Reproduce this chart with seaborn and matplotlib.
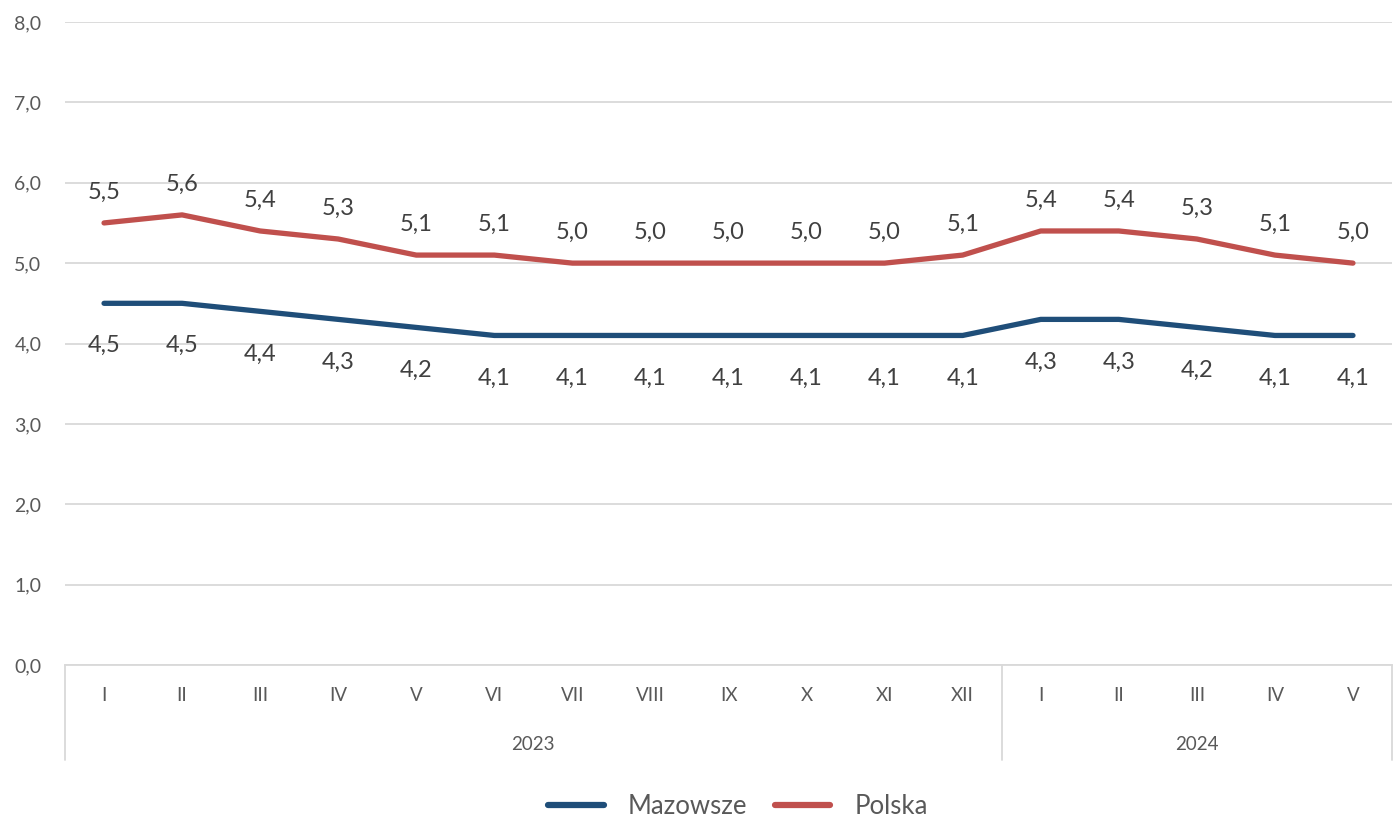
import matplotlib
matplotlib.use("Agg")
import matplotlib.pyplot as plt
import matplotlib.transforms as mtransforms
import seaborn as sns
import pandas as pd

months = ["I", "II", "III", "IV", "V", "VI", "VII", "VIII", "IX", "X", "XI", "XII",
          "I", "II", "III", "IV", "V"]
years = ["2023"] * 12 + ["2024"] * 5
mazowsze = [4.5, 4.5, 4.4, 4.3, 4.2, 4.1, 4.1, 4.1, 4.1, 4.1, 4.1, 4.1, 4.3, 4.3, 4.2, 4.1, 4.1]
polska = [5.5, 5.6, 5.4, 5.3, 5.1, 5.1, 5.0, 5.0, 5.0, 5.0, 5.0, 5.1, 5.4, 5.4, 5.3, 5.1, 5.0]
series_names = ["Mazowsze", "Polska"]
colors = ["#1F4E79", "#C0504D"]
yticks = [0, 1, 2, 3, 4, 5, 6, 7, 8]

sns.set_theme(style="white")
plt.rcParams["font.family"] = ["Lato", "DejaVu Sans"]

n = len(months)
df = pd.DataFrame({
    "idx": list(range(n)) * 2,
    "value": mazowsze + polska,
    "series": [series_names[0]] * n + [series_names[1]] * n,
})

fig = plt.figure(figsize=(14, 8.16), dpi=100)
ax = fig.add_axes([65 / 1400, 1 - 665 / 816, (1392 - 65) / 1400, (665 - 22) / 816])

sns.lineplot(data=df, x="idx", y="value", hue="series", palette=colors,
             linewidth=3.8, ax=ax, legend=False, zorder=3)
for line in ax.lines:
    line.set_solid_capstyle("round")
    line.set_solid_joinstyle("round")

ax.set_xlim(-0.5, n - 0.5)
ax.set_ylim(0, 8)
ax.set_yticks(yticks)
ax.set_yticklabels([f"{v:.1f}".replace(".", ",") for v in yticks])
ax.yaxis.grid(True, color="#D9D9D9", linewidth=1.3)
ax.set_axisbelow(True)
for s in ["top", "right", "left"]:
    ax.spines[s].set_visible(False)
ax.spines["bottom"].set_color("#D9D9D9")
ax.spines["bottom"].set_linewidth(1.3)
ax.set_xlabel("")
ax.set_ylabel("")

ax.set_xticks(range(n))
ax.set_xticklabels(months)
ax.tick_params(axis="x", length=0, pad=16, labelsize=13.5, labelcolor="#595959")
ax.tick_params(axis="y", length=0, pad=17, labelsize=14, labelcolor="#595959")

# data labels
for i, v in enumerate(polska):
    ax.annotate(f"{v:.1f}".replace(".", ","), (i, v), xytext=(0, 17.3),
                textcoords="offset points", ha="center", va="baseline",
                fontsize=17, color="#404040")
for i, v in enumerate(mazowsze):
    ax.annotate(f"{v:.1f}".replace(".", ","), (i, v), xytext=(0, -35.3),
                textcoords="offset points", ha="center", va="baseline",
                fontsize=17, color="#404040")

# multilevel category axis
trans = mtransforms.blended_transform_factory(ax.transData, ax.transAxes)
sep_bottom = -(760 - 665) / (665 - 22)
groups = []
for i, y in enumerate(years):
    if not groups or groups[-1][0] != y:
        groups.append([y, i, i])
    else:
        groups[-1][2] = i
bounds = [-0.5] + [g[2] + 0.5 for g in groups]
for b in bounds:
    ax.plot([b, b], [0, sep_bottom], transform=trans, color="#D9D9D9",
            linewidth=1.3, clip_on=False)
year_y = -(744 - 665) / (665 - 22)
for name, a, b in groups:
    ax.text((a + b) / 2, year_y, name, transform=trans, ha="center", va="center",
            fontsize=13.5, color="#595959")

# legend
handles = [plt.Line2D([], [], color=c, linewidth=4.5, solid_capstyle="round") for c in colors]
fig.legend(handles, series_names, loc="center", bbox_to_anchor=(738 / 1400, 1 - 806 / 816),
           ncol=2, frameon=False, fontsize=18.5, handlelength=2.15, columnspacing=1.1,
           handletextpad=0.93, labelcolor="#595959")

fig.savefig("out.png", dpi=100)
